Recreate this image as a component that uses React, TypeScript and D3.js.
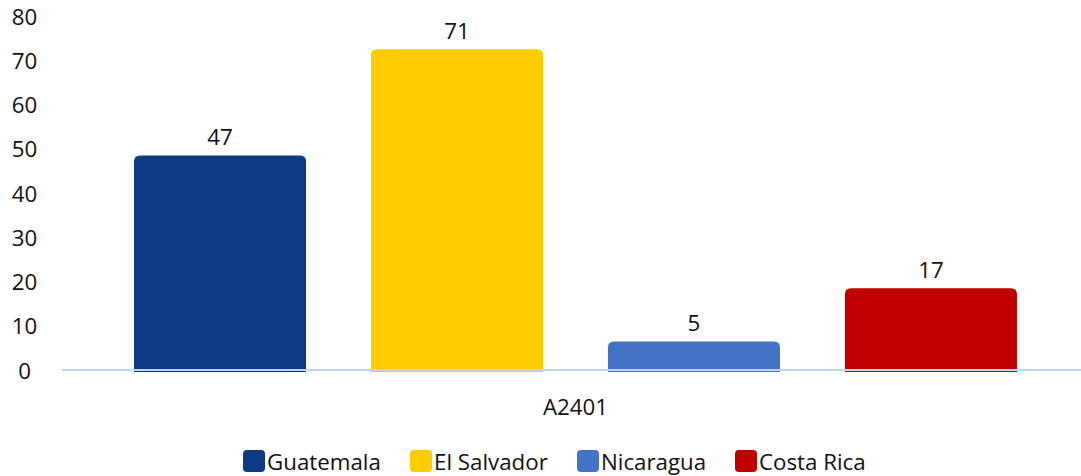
import React from "react";
import * as d3 from "d3";

const categories = ["A2401"];
const seriesNames = ["Guatemala", "El Salvador", "Nicaragua", "Costa Rica"];
const seriesValues = [47, 71, 5, 17];
const seriesColors = ["#0E3A84", "#FFCC00", "#4472C4", "#C00000"];
const yTicks = [0, 10, 20, 30, 40, 50, 60, 70, 80];

const W = 1081;
const H = 476;
const FONT = "'Segoe UI', 'Open Sans', 'Noto Sans', sans-serif";
const FS = 22.3;

export default function App() {
  const y = d3.scaleLinear().domain([0, 80]).range([370, 16]);
  const x0 = d3.scaleBand().domain(categories).range([62, 1089]).padding(0);
  const x1 = d3
    .scaleBand()
    .domain(seriesNames)
    .range([0, x0.bandwidth()])
    .paddingInner(0.274)
    .paddingOuter(0.304);
  const overhang = 6.5; // visual extension of bar tops in reference
  const r = 6;

  const barPath = (x: number, top: number, w: number, bottom: number) => {
    const p = d3.path();
    p.moveTo(x, bottom);
    p.lineTo(x, top + r);
    p.quadraticCurveTo(x, top, x + r, top);
    p.lineTo(x + w - r, top);
    p.quadraticCurveTo(x + w, top, x + w, top + r);
    p.lineTo(x + w, bottom);
    p.closePath();
    return p.toString();
  };

  const legendX = [243, 410, 577, 735];

  return (
    <svg
      width={W}
      height={H}
      style={{ position: "absolute", left: 0, top: 0, background: "#fff" }}
      fontFamily={FONT}
    >
      {yTicks.map((t) => (
        <text
          key={t}
          x={24.5}
          y={y(t)}
          textAnchor="middle"
          dominantBaseline="central"
          fontSize={FS}
          fill="#111"
        >
          {t}
        </text>
      ))}
      {categories.map((c) => (
        <g key={c} transform={`translate(${x0(c)},0)`}>
          {seriesNames.map((s, i) => {
            const bx = x1(s) as number;
            const top = y(seriesValues[i]) - overhang;
            return (
              <g key={s}>
                <path d={barPath(bx, top, x1.bandwidth(), y(0) + 2)} fill={seriesColors[i]} />
                <text
                  x={bx + x1.bandwidth() / 2}
                  y={top - 19}
                  textAnchor="middle"
                  dominantBaseline="central"
                  fontSize={FS}
                  fill="#111"
                >
                  {seriesValues[i]}
                </text>
              </g>
            );
          })}
          <text
            x={x0.bandwidth() / 2}
            y={406}
            textAnchor="middle"
            dominantBaseline="central"
            fontSize={FS}
            fill="#111"
          >
            {c}
          </text>
        </g>
      ))}
      <line x1={62} x2={W} y1={y(0)} y2={y(0)} stroke="#BDD7EE" strokeWidth={2} />
      {seriesNames.map((s, i) => (
        <g key={s} transform={`translate(${legendX[i]},450)`}>
          <rect x={0} y={0} width={22} height={22} rx={4} fill={seriesColors[i]} />
          <text x={24} y={11} dominantBaseline="central" fontSize={FS} fill="#111">
            {s}
          </text>
        </g>
      ))}
    </svg>
  );
}
